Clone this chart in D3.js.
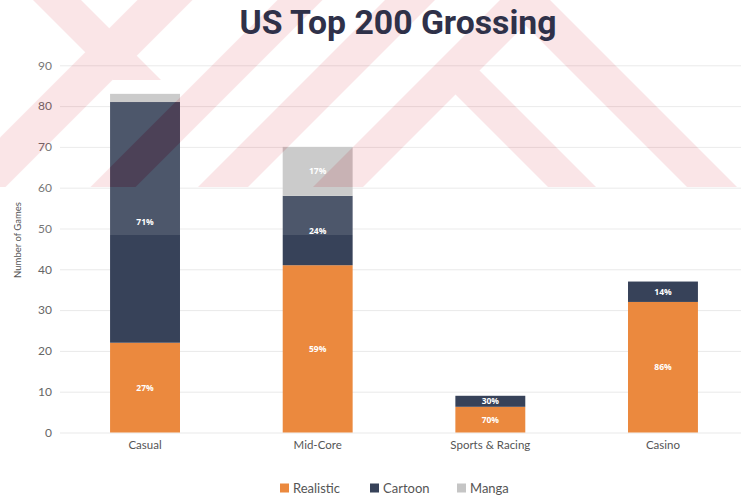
<!DOCTYPE html>
<html>
<head>
<meta charset="utf-8">
<script src="https://cdn.jsdelivr.net/npm/d3@7"></script>
<style>
  html, body { margin: 0; padding: 0; background: #ffffff; }
  svg { display: block; }
</style>
</head>
<body>
<svg id="chart" width="741" height="501"></svg>
<script>
// Games in the US top 200 grossing list, by genre and art style
const categories = ["Casual", "Mid-Core", "Sports & Racing", "Casino"];
const seriesNames = ["Realistic", "Cartoon", "Manga"];
const realistic = [22, 41, 6.3, 32];
const cartoon   = [59, 17, 2.7, 5];
const manga     = [2, 12, 0, 0];
const yTicks    = [0, 10, 20, 30, 40, 50, 60, 70, 80, 90];

const colors = { Realistic: "#eb893e", Cartoon: "#374259", Manga: "#c5c5c5" };
const W = 741, H = 501;
const svg = d3.select("#chart");

const rows = categories.map((c, i) => ({
  category: c, Realistic: realistic[i], Cartoon: cartoon[i], Manga: manga[i]
}));
const stacked = d3.stack().keys(seriesNames)(rows);

const x = d3.scaleBand().domain(categories).range([60, 748])
  .paddingInner(0.595).paddingOuter(0.29);
const y = d3.scaleLinear().domain([0, 90]).range([432.5, 65.3]);

// gridlines + y tick labels
const yAxis = svg.append("g").attr("transform", "translate(60,0)")
  .call(d3.axisLeft(y).tickValues(yTicks).tickSize(-(W - 60)).tickPadding(8));
yAxis.select(".domain").remove();
yAxis.selectAll(".tick line").attr("stroke", "#e9e9e9").attr("stroke-width", 1);
yAxis.selectAll(".tick text").attr("fill", "#666").attr("font-size", 12)
  .attr("font-family", "Lato, 'Open Sans', sans-serif");

// category labels
const xAxis = svg.append("g").attr("transform", `translate(0,${y(0)})`)
  .call(d3.axisBottom(x).tickSize(0).tickPadding(8));
xAxis.select(".domain").remove();
xAxis.selectAll(".tick text").attr("fill", "#555").attr("font-size", 11.5)
  .attr("font-family", "Lato, 'Open Sans', sans-serif");

// stacked bars
const layers = svg.append("g").selectAll("g").data(stacked).join("g")
  .attr("fill", d => colors[d.key]);
layers.selectAll("rect").data(d => d.filter(s => s[1] > s[0])).join("rect")
  .attr("x", d => x(d.data.category))
  .attr("width", x.bandwidth())
  .attr("y", d => y(d[1]))
  .attr("height", d => y(d[0]) - y(d[1]));

// background watermark: diagonal stripes with a light haze
const bands = [
  { dir: "/",  c: 165, w: 55, y0: 0,  y1: 187 },
  { dir: "\\", c: 57,  w: 48, y0: 0,  y1: 80 },
  { dir: "/",  c: 300, w: 45, y0: 0,  y1: 187 },
  { dir: "/",  c: 410, w: 50, y0: 0,  y1: 187 },
  { dir: "/",  c: 525, w: 50, y0: 0,  y1: 187 },
  { dir: "\\", c: 385, w: 48, y0: 70, y1: 187 },
  { dir: "\\", c: 525, w: 50, y0: 0,  y1: 187 }
];
function bandPoints(b) {
  const xAt = (yy, off) => b.dir === "/" ? b.c + off - yy : b.c + off + yy;
  return [[xAt(b.y0, -b.w / 2), b.y0], [xAt(b.y0, b.w / 2), b.y0],
          [xAt(b.y1, b.w / 2), b.y1], [xAt(b.y1, -b.w / 2), b.y1]]
    .map(p => p.join(",")).join(" ");
}
const defs = svg.append("defs");
const mask = defs.append("mask").attr("id", "hazeMask");
mask.append("rect").attr("width", W).attr("height", H).attr("fill", "#fff");
mask.selectAll("polygon").data(bands).join("polygon")
  .attr("points", bandPoints).attr("fill", "#000");

svg.append("rect").attr("x", 0).attr("y", 0).attr("width", W).attr("height", 235)
  .attr("fill", "#fff").attr("opacity", 0.11).attr("mask", "url(#hazeMask)");
svg.append("g").attr("opacity", 0.13).attr("fill", "#dc3c4c")
  .selectAll("polygon").data(bands).join("polygon").attr("points", bandPoints);

// percentage labels inside segments
const labelData = [];
stacked.forEach(layer => layer.forEach(s => {
  const total = s.data.Realistic + s.data.Cartoon + s.data.Manga;
  const share = (s[1] - s[0]) / total;
  if (share >= 0.05) labelData.push({ cat: s.data.category, mid: (s[0] + s[1]) / 2, pct: Math.round(share * 100) });
}));
svg.append("g").selectAll("text").data(labelData).join("text")
  .attr("x", d => x(d.cat) + x.bandwidth() / 2)
  .attr("y", d => y(d.mid))
  .attr("dy", "0.35em")
  .attr("text-anchor", "middle")
  .attr("fill", "#fff")
  .attr("font-size", 8.5)
  .attr("font-weight", 700)
  .attr("font-family", "'Open Sans', Lato, sans-serif")
  .text(d => d.pct + "%");

// y axis title
svg.append("text")
  .attr("transform", "translate(21,240) rotate(-90)")
  .attr("text-anchor", "middle")
  .attr("fill", "#555").attr("font-size", 9.5)
  .attr("font-family", "Lato, 'Open Sans', sans-serif")
  .text("Number of Games");

// title
svg.append("text")
  .attr("x", 398).attr("y", 34)
  .attr("text-anchor", "middle")
  .attr("fill", "#2f3149")
  .attr("font-size", 34).attr("font-weight", 700)
  .attr("font-family", "Roboto, 'Open Sans', sans-serif")
  .attr("textLength", 317).attr("lengthAdjust", "spacingAndGlyphs")
  .text("US Top 200 Grossing");

// legend
const legendX = [280, 370, 457];
const legend = svg.append("g").selectAll("g").data(seriesNames).join("g")
  .attr("transform", (d, i) => `translate(${legendX[i]},488)`);
legend.append("rect").attr("x", 0).attr("y", -4.5).attr("width", 9).attr("height", 9)
  .attr("fill", d => colors[d]);
legend.append("text").attr("x", 13).attr("dy", "0.35em")
  .attr("fill", "#555").attr("font-size", 13)
  .attr("font-family", "Lato, 'Open Sans', sans-serif")
  .text(d => d);
</script>
</body>
</html>
